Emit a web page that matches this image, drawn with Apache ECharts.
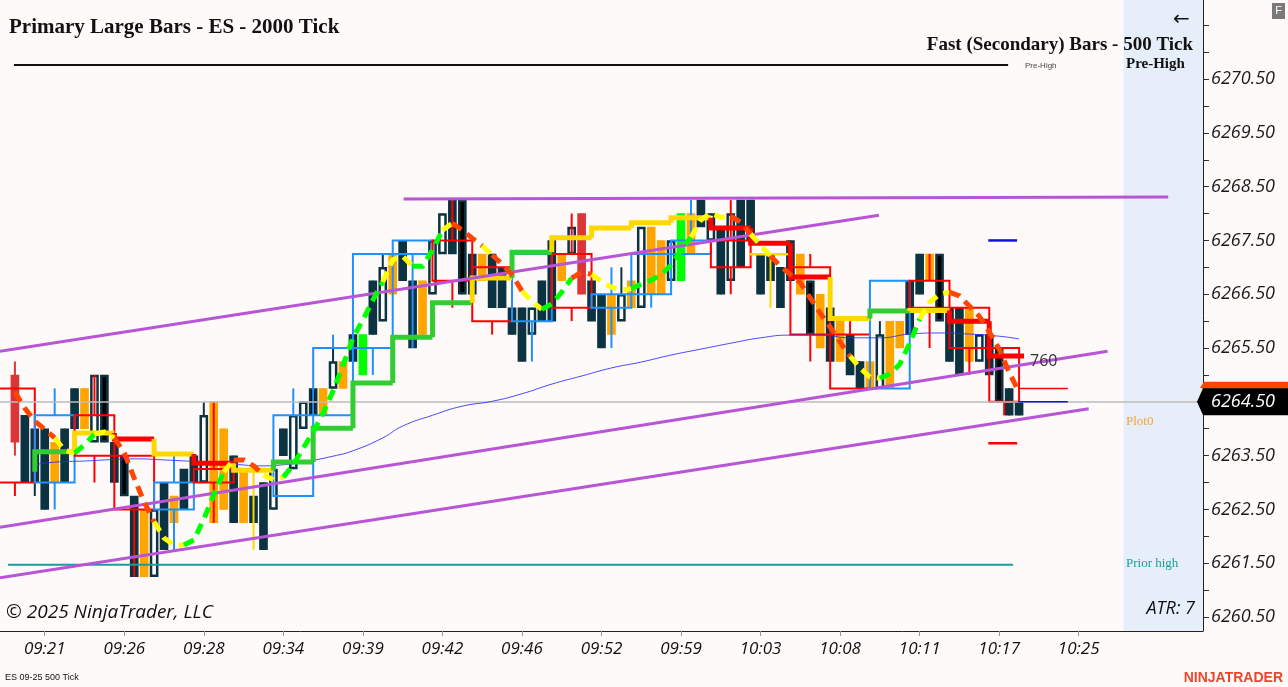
<!DOCTYPE html>
<html>
<head>
<meta charset="utf-8">
<script src="https://cdn.jsdelivr.net/npm/echarts@6/dist/echarts.min.js"></script>
<style>
  html, body { margin: 0; padding: 0; background: #fffafa; }
  #chart { width: 1288px; height: 687px; }
</style>
</head>
<body>
<div id="chart"></div>
<script>
// ---- axis labels ----
const timeLabels = ['09:21', '09:26', '09:28', '09:34', '09:39', '09:42', '09:46', '09:52', '09:59', '10:03', '10:08', '10:11', '10:17', '10:25'];
const timeLabelIdx = [4, 12, 20, 28, 36, 44, 52, 60, 68, 76, 84, 92, 100, 108];
const priceLabels = [6260.5, 6261.5, 6262.5, 6263.5, 6264.5, 6265.5, 6266.5, 6267.5, 6268.5, 6269.5, 6270.5];
const priceTicks = [6260.5, 6261, 6261.5, 6262, 6262.5, 6263, 6263.5, 6264, 6264.5, 6265, 6265.5, 6266,
  6266.5, 6267, 6267.5, 6268, 6268.5, 6269, 6269.5, 6270, 6270.5, 6271, 6271.5];
const lastPrice = 6264.5;

// ---- fast (secondary) 500 tick bars, index 0..102 ----
// kind: d = down dark, k = down black, u = up hollow, o = orange, r = red, g = green, - = none
const secKind = ['-', 'r', 'd', 'd', 'd', 'o', 'd', 'd', 'o', 'u', 'k', 'd', 'k', 'd', 'o', 'u', 'd', 'o', 'd', 'd',
  'u', 'o', 'o', 'd', 'o', 'd', 'd', 'u', 'd', 'u', 'u', 'k', 'o', 'u', 'o', 'd', 'g', 'd', 'u', 'o',
  'd', 'd', 'o', 'u', 'u', 'd', 'k', 'd', 'o', 'd', 'd', 'd', 'd', 'u', 'd', 'd', 'o', 'u', 'r', 'd',
  'd', 'o', 'u', 'o', 'u', 'o', 'o', 'u', 'g', 'o', 'd', 'u', 'd', 'u', 'd', 'd', 'd', 'd', 'd', 'd',
  'o', 'k', 'o', 'd', 'o', 'd', 'd', 'o', 'u', 'o', 'o', 'd', 'd', 'o', 'k', 'd', 'd', 'o', 'u', 'd',
  'k', 'd', 'd'];
const secOpen = [null, 6265.0, 6264.25, 6264.0, 6264.0, 6263.0, 6264.0, 6264.75, 6264.0, 6263.75, 6265.0, 6263.75, 6263.5, 6262.75, 6261.25, 6261.25, 6263.0, 6262.25, 6263.25, 6263.5,
  6263.0, 6264.5, 6262.5, 6263.5, 6262.25, 6262.75, 6263.0, 6262.5, 6264.0, 6263.25, 6264.0, 6264.75, 6264.25, 6264.75, 6264.75, 6265.75, 6265.0, 6266.75, 6266.0, 6267.25,
  6267.5, 6266.75, 6265.75, 6266.5, 6267.25, 6268.25, 6268.25, 6267.25, 6266.75, 6267.25, 6267.0, 6266.25, 6266.25, 6265.75, 6266.75, 6267.5, 6266.75, 6267.25, 6268.0, 6266.75,
  6266.5, 6265.75, 6266.0, 6266.25, 6266.25, 6266.5, 6267.5, 6266.75, 6266.75, 6267.25, 6268.25, 6267.5, 6267.75, 6266.75, 6268.25, 6268.25, 6267.25, 6267.25, 6267.0, 6267.5,
  6266.5, 6266.75, 6266.5, 6266.25, 6265.25, 6265.75, 6265.25, 6264.75, 6264.75, 6264.75, 6265.5, 6266.75, 6267.25, 6266.75, 6267.25, 6266.25, 6266.25, 6265.25, 6265.25, 6265.75,
  6265.5, 6264.75, 6264.5];
const secHigh = [null, 6265.25, 6264.25, 6264.0, 6264.0, 6263.75, 6264.0, 6264.75, 6264.75, 6265.0, 6265.0, 6263.75, 6263.5, 6262.75, 6262.5, 6262.5, 6263.0, 6262.75, 6263.25, 6263.5,
  6264.5, 6264.5, 6264.0, 6263.5, 6263.25, 6262.75, 6263.0, 6263.25, 6264.0, 6264.25, 6264.5, 6264.75, 6264.75, 6265.5, 6265.25, 6265.75, 6265.75, 6266.75, 6267.25, 6267.25,
  6267.5, 6266.75, 6266.75, 6267.5, 6268.0, 6268.25, 6268.25, 6267.25, 6267.25, 6267.25, 6267.0, 6266.25, 6266.25, 6266.25, 6266.75, 6267.5, 6267.25, 6267.75, 6268.0, 6266.75,
  6266.5, 6266.5, 6267.0, 6266.75, 6267.75, 6267.75, 6267.5, 6267.5, 6268.0, 6268.25, 6268.25, 6268.0, 6267.75, 6268.0, 6268.25, 6268.25, 6267.25, 6267.25, 6267.0, 6267.5,
  6267.25, 6266.75, 6266.5, 6266.25, 6266.0, 6265.75, 6265.25, 6265.25, 6266.0, 6266.0, 6266.0, 6266.75, 6267.25, 6267.25, 6267.25, 6266.25, 6266.25, 6266.25, 6265.75, 6265.75,
  6265.5, 6264.75, 6264.5];
const secLow = [null, 6263.5, 6263.0, 6262.75, 6262.5, 6263.0, 6263.0, 6264.0, 6264.0, 6263.75, 6263.75, 6263.0, 6262.75, 6261.25, 6261.25, 6261.25, 6261.75, 6261.75, 6262.5, 6263.0,
  6263.0, 6262.25, 6262.5, 6262.25, 6262.25, 6262.25, 6261.75, 6262.5, 6263.5, 6263.25, 6264.0, 6264.25, 6264.25, 6264.75, 6264.75, 6265.25, 6265.0, 6265.75, 6266.0, 6266.5,
  6266.75, 6265.5, 6265.75, 6266.5, 6267.25, 6267.25, 6266.5, 6266.5, 6266.75, 6266.25, 6266.25, 6265.75, 6265.25, 6265.75, 6266.0, 6266.0, 6266.75, 6267.25, 6266.5, 6266.0,
  6265.5, 6265.75, 6266.0, 6266.25, 6266.25, 6266.5, 6266.5, 6266.75, 6266.75, 6267.25, 6267.75, 6267.5, 6266.5, 6266.75, 6267.0, 6267.5, 6266.5, 6266.75, 6266.25, 6266.75,
  6266.5, 6265.75, 6265.5, 6265.25, 6265.25, 6265.0, 6264.75, 6264.75, 6264.75, 6264.75, 6265.5, 6265.75, 6266.5, 6266.75, 6266.0, 6265.25, 6265.0, 6265.25, 6265.25, 6265.0,
  6264.5, 6264.25, 6264.25];
const secClose = [null, 6263.75, 6263.0, 6263.0, 6262.5, 6263.75, 6263.0, 6264.0, 6264.75, 6265.0, 6263.75, 6263.0, 6262.75, 6261.25, 6262.5, 6262.5, 6261.75, 6262.75, 6262.5, 6263.0,
  6264.25, 6262.25, 6264.0, 6262.25, 6263.25, 6262.25, 6261.75, 6263.25, 6263.5, 6264.25, 6264.5, 6264.25, 6264.75, 6265.25, 6265.25, 6265.25, 6265.75, 6265.75, 6267.0, 6266.5,
  6266.75, 6265.5, 6266.75, 6267.5, 6268.0, 6267.25, 6266.5, 6266.5, 6267.25, 6266.25, 6266.25, 6265.75, 6265.25, 6266.25, 6266.0, 6266.0, 6267.25, 6267.75, 6266.5, 6266.0,
  6265.5, 6266.5, 6266.5, 6266.75, 6267.75, 6267.75, 6266.5, 6267.5, 6268.0, 6268.0, 6267.75, 6268.0, 6266.5, 6268.0, 6267.0, 6267.5, 6266.5, 6266.75, 6266.25, 6266.75,
  6267.25, 6265.75, 6265.5, 6265.25, 6266.0, 6265.0, 6264.75, 6265.25, 6265.75, 6266.0, 6266.0, 6265.75, 6266.5, 6267.25, 6266.0, 6265.25, 6265.0, 6266.25, 6265.75, 6265.0,
  6264.5, 6264.25, 6264.25];

// ---- primary large 2000 tick bars (each spans 4 fast bars) ----
const primOpen = [6264.75, 6263.0, 6264.25, 6263.5, 6262.5, 6263.25, 6263.25, 6262.75, 6264.25, 6265.5, 6267.25, 6267.5, 6267.0,
  6266.0, 6267.25, 6266.25, 6266.5, 6267.25, 6267.5, 6267.25, 6267.0, 6265.75, 6264.75, 6266.75, 6266.25, 6265.5];
const primHigh = [6264.75, 6264.75, 6265.0, 6263.5, 6263.5, 6264.5, 6263.25, 6264.75, 6265.75, 6267.25, 6267.5, 6268.25, 6267.0,
  6267.25, 6268.0, 6267.0, 6267.25, 6268.25, 6268.25, 6267.25, 6267.25, 6266.0, 6266.75, 6267.25, 6266.25, 6265.5];
const primLow = [6262.75, 6262.5, 6263.0, 6261.25, 6261.75, 6262.25, 6261.75, 6262.75, 6264.25, 6265.0, 6265.5, 6266.25, 6265.75,
  6265.25, 6266.0, 6265.5, 6266.25, 6267.25, 6266.5, 6266.25, 6265.25, 6264.75, 6264.75, 6265.5, 6265.0, 6264.25];
const primClose = [6263.0, 6264.25, 6263.5, 6262.5, 6263.0, 6263.0, 6263.25, 6264.25, 6265.5, 6267.25, 6267.5, 6266.75, 6266.0,
  6267.25, 6266.25, 6266.5, 6267.25, 6267.5, 6267.0, 6267.25, 6265.75, 6264.75, 6266.75, 6266.25, 6265.5, 6264.5];

// ---- trend step line per primary bar (g = up, y = flat, r = down, - = hidden) ----
const stepVal = [6263.2, 6263.57, 6263.92, 6263.81, 6263.53, 6263.36, 6263.23, 6263.38, 6264.01, 6264.85, 6265.7, 6266.34, 6266.8,
  6267.28, 6267.55, 6267.73, 6267.83, 6267.92, 6267.73, 6267.45, 6266.82, 6266.05, 6266.19, 6266.2, 6266.0, 6265.35];
const stepTrend = ['-', 'g', 'y', 'r', 'y', 'r', 'y', 'g', 'g', 'g', 'g', 'g', 'y', 'g', 'y', 'y', 'y', 'y', 'r', 'r', 'r', 'y', 'g', 'y', 'r', 'r'];

// ---- dashed fast average per fast bar ----
const dashVal = [null,
  6264.68, 6264.38, 6264.14, 6263.99, 6263.83, 6263.60, 6263.55, 6263.70, 6263.90, 6263.94,
  6263.83, 6263.55, 6263.08, 6262.64, 6262.27, 6261.97, 6261.84, 6261.84, 6261.93, 6262.32,
  6262.77, 6263.20, 6263.42, 6263.42, 6263.31, 6263.14, 6263.05, 6263.10, 6263.33, 6263.64,
  6263.94, 6264.29, 6264.70, 6265.18, 6265.69, 6266.02, 6266.39, 6266.73, 6267.14, 6267.21,
  6267.02, 6267.02, 6267.32, 6267.69, 6267.82, 6267.69, 6267.54, 6267.40, 6267.23, 6267.06,
  6266.86, 6266.56, 6266.37, 6266.22, 6266.32, 6266.54, 6266.80, 6266.91, 6266.87, 6266.74,
  6266.63, 6266.58, 6266.60, 6266.69, 6266.76, 6266.87, 6267.04, 6267.32, 6267.56, 6267.88,
  6268.01, 6267.93, 6267.95, 6267.84, 6267.62, 6267.41, 6267.21, 6267.02, 6266.87, 6266.71,
  6266.43, 6266.15, 6265.89, 6265.61, 6265.35, 6265.13, 6264.96, 6264.94, 6265.02, 6265.20,
  6265.59, 6266.04, 6266.35, 6266.50, 6266.54, 6266.47, 6266.28, 6266.09, 6265.80, 6265.48,
  6265.05, 6264.68];
// colour runs of the dashed line: [first index, last index, trend]
const dashRuns = [[1, 5, 'o'], [6, 7, 'y'], [8, 9, 'g'], [10, 11, 'y'], [12, 15, 'o'], [16, 18, 'y'], [19, 22, 'g'], [23, 23, 'y'],
  [24, 26, 'o'], [27, 28, 'y'], [29, 38, 'g'], [39, 41, 'y'], [42, 44, 'g'], [45, 45, 'y'], [46, 48, 'o'], [49, 49, 'y'],
  [50, 52, 'o'], [53, 54, 'y'], [55, 57, 'g'], [58, 59, 'o'], [60, 63, 'y'], [64, 69, 'g'], [70, 73, 'y'], [74, 75, 'o'],
  [76, 77, 'y'], [78, 85, 'o'], [86, 88, 'y'], [89, 92, 'g'], [93, 95, 'y'], [96, 102, 'o']];

// ---- slow moving average (thin blue) ----
const smaIdx = [3, 5, 8, 10, 13, 16, 20, 23, 26, 28, 30, 33, 35, 38, 40, 43, 46, 49, 52, 55, 58, 61, 64, 67, 70, 73, 76, 79, 82, 85, 88, 91, 94, 97, 100, 102];
const smaVal = [6263.33, 6263.38, 6263.40, 6263.42, 6263.44, 6263.42, 6263.38, 6263.34, 6263.31, 6263.33,
  6263.38, 6263.49, 6263.59, 6263.83, 6264.05, 6264.25, 6264.42, 6264.51, 6264.65, 6264.83,
  6264.98, 6265.13, 6265.24, 6265.37, 6265.48, 6265.59, 6265.69, 6265.74, 6265.74, 6265.69,
  6265.69, 6265.76, 6265.78, 6265.76, 6265.72, 6265.67];

// ---- drawn trend lines: from index, from price, to index, to price ----
const trendFromIdx = [-0.5, 40.1, -0.5, -0.5];
const trendFromPrice = [6265.44, 6268.27, 6262.17, 6261.23];
const trendToIdx = [87.9, 117.0, 110.9, 109.0];
const trendToPrice = [6267.97, 6268.31, 6265.44, 6264.37];

// ---- horizontal levels ----
const levelFrom = [0.9, 0.3, 98.9, 98.9, 101.9, 101.9];
const levelTo = [100.9, 101.4, 101.8, 101.8, 106.9, 106.9];
const levelPrice = [6270.76, 6261.47, 6267.5, 6263.73, 6264.75, 6264.5];
const levelKind = ['pre', 'prior', 'blue', 'red', 'redThin', 'blueThin'];

// ---------------------------------------------------------------
const lastIdx = secKind.length - 1;

const candleStyle = {
  d: { fill: '#0b3341', stroke: '#0b3341' },
  k: { fill: '#000000', stroke: '#0b3341' },
  u: { fill: '#ffffff', stroke: '#0b3341' },
  o: { fill: '#ffa500', stroke: '#ffa500' },
  r: { fill: '#dc3535', stroke: '#dc3535' },
  g: { fill: '#00ff00', stroke: '#00ff00' }
};
const stepColor = { g: '#32cd32', y: '#ffd700', r: '#ff0000' };
const dashColor = { g: '#00ff00', y: '#ffff00', o: '#ff4500' };
const levelStyle = {
  pre: { stroke: '#111111', lineWidth: 2 },
  prior: { stroke: '#1a9c9c', lineWidth: 2 },
  blue: { stroke: '#1010e0', lineWidth: 2.5 },
  red: { stroke: '#ff0000', lineWidth: 2.5 },
  redThin: { stroke: '#ff0000', lineWidth: 1.5 },
  blueThin: { stroke: '#1010e0', lineWidth: 1.5 }
};

const candleData = [];
const candleKinds = [];
secKind.forEach((k, i) => {
  if (k === '-') return;
  candleData.push([i, secOpen[i], secHigh[i], secLow[i], secClose[i]]);
  candleKinds.push(k);
});

const primData = primOpen.map((o, k) => [4 * k - 1, Math.min(4 * k + 3, lastIdx), o, primHigh[k], primLow[k], primClose[k]]);
const stepData = stepVal.map((v, k) => [4 * k - 1, Math.min(4 * k + 3, lastIdx + 0.5), v, k > 0 ? stepVal[k - 1] : v]);
const smaData = smaIdx.map((x, n) => [x, smaVal[n]]);
const trendData = trendFromIdx.map((x, n) => [x, trendFromPrice[n], trendToIdx[n], trendToPrice[n]]);
const levelData = levelFrom.map((x, n) => [x, levelPrice[n], levelTo[n]]);

function renderCandle(params, api) {
  const i = api.value(0);
  const pO = api.coord([i, api.value(1)]);
  const yH = api.coord([i, api.value(2)])[1];
  const yL = api.coord([i, api.value(3)])[1];
  const yC = api.coord([i, api.value(4)])[1];
  const x = pO[0];
  const w = api.size([1, 0])[0] * 0.82;
  const top = Math.min(pO[1], yC);
  const h = Math.max(Math.abs(pO[1] - yC), 3);
  const c = candleStyle[candleKinds[params.dataIndex]];
  return {
    type: 'group',
    children: [
      { type: 'line', shape: { x1: x, y1: yH, x2: x, y2: yL }, style: { stroke: c.stroke, lineWidth: 2 } },
      { type: 'rect', shape: { x: x - w / 2 + 1, y: top + 1, width: w - 2, height: h - 2 },
        style: { fill: c.fill, stroke: c.stroke, lineWidth: 2.5 } }
    ]
  };
}

function renderPrimary(params, api) {
  const s = api.value(0), e = api.value(1);
  const o = api.value(2), hi = api.value(3), lo = api.value(4), cl = api.value(5);
  const xs = api.coord([s, o])[0], xe = api.coord([e, o])[0];
  const xm = (xs + xe) / 2;
  const yO = api.coord([s, o])[1], yC = api.coord([s, cl])[1];
  const yH = api.coord([s, hi])[1], yL = api.coord([s, lo])[1];
  const color = cl > o ? '#1e90ff' : (cl < o ? '#ff0000' : '#ffd700');
  const top = Math.min(yO, yC), bot = Math.max(yO, yC);
  return {
    type: 'group',
    children: [
      { type: 'rect', shape: { x: xs, y: top, width: xe - xs, height: Math.max(bot - top, 0.5) },
        style: { fill: 'none', stroke: color, lineWidth: 2 } },
      { type: 'line', shape: { x1: xm, y1: yH, x2: xm, y2: top }, style: { stroke: color, lineWidth: 2 } },
      { type: 'line', shape: { x1: xm, y1: bot, x2: xm, y2: yL }, style: { stroke: color, lineWidth: 2 } }
    ]
  };
}

function renderStep(params, api) {
  const trend = stepTrend[params.dataIndex];
  if (trend === '-') return null;
  const s = api.value(0), e = api.value(1);
  const p = api.coord([s, api.value(2)]);
  const prevY = api.coord([s, api.value(3)])[1];
  const xe = api.coord([e, api.value(2)])[0];
  return {
    type: 'polyline',
    shape: { points: [[p[0], prevY], [p[0], p[1]], [xe, p[1]]] },
    style: { fill: 'none', stroke: stepColor[trend], lineWidth: 5 }
  };
}

function renderDash(params, api) {
  const run = dashRuns[params.dataIndex];
  const pts = [];
  for (let i = Math.max(run[0] - 1, 1); i <= run[1]; i++) pts.push(api.coord([i, dashVal[i]]));
  return {
    type: 'polyline',
    shape: { points: pts },
    style: { fill: 'none', stroke: dashColor[run[2]], lineWidth: 5, lineDash: [11, 7] }
  };
}

function renderTrend(params, api) {
  const a = api.coord([api.value(0), api.value(1)]);
  const b = api.coord([api.value(2), api.value(3)]);
  return { type: 'line', shape: { x1: a[0], y1: a[1], x2: b[0], y2: b[1] }, style: { stroke: '#b755d6', lineWidth: 3 } };
}

function renderLevel(params, api) {
  const a = api.coord([api.value(0), api.value(1)]);
  const b = api.coord([api.value(2), api.value(1)]);
  return { type: 'line', shape: { x1: a[0], y1: a[1], x2: b[0], y2: a[1] }, style: levelStyle[levelKind[params.dataIndex]] };
}

function renderTag(params, api) {
  const p = api.coord([api.value(0), api.value(1)]);
  const x = p[0], y = p[1];
  return {
    type: 'group',
    children: [
      { type: 'polygon', shape: { points: [[x - 3, y - 14], [x + 1, y - 20], [x + 85, y - 20], [x + 85, y - 13], [x, y - 13]] },
        style: { fill: '#ff4500' } },
      { type: 'polygon', shape: { points: [[x - 6, y], [x, y - 13.5], [x + 85, y - 13.5], [x + 85, y + 13.5], [x, y + 13.5]] },
        style: { fill: '#000000' } },
      { type: 'text', x: x + 8, y: y, style: { text: api.value(1).toFixed(2), fill: '#ffffff',
        font: 'italic 18px "Open Sans"', verticalAlign: 'middle' } }
    ]
  };
}

const textZ = 50;
const chart = echarts.init(document.getElementById('chart'));
chart.setOption({
  animation: false,
  backgroundColor: '#fffafa',
  grid: { left: 0, right: 85, top: 0, bottom: 56, outerBoundsMode: 'none', containLabel: false },
  xAxis: {
    type: 'value', min: -0.5, max: 120.5,
    splitLine: { show: false },
    axisLine: { onZero: false, lineStyle: { color: '#222', width: 1 } },
    axisTick: { customValues: timeLabelIdx, length: 5, lineStyle: { color: '#999' } },
    axisLabel: {
      customValues: timeLabelIdx, margin: 10,
      formatter: v => timeLabels[timeLabelIdx.indexOf(Math.round(v))] || '',
      fontFamily: 'Open Sans', fontStyle: 'italic', fontSize: 17, color: '#111'
    }
  },
  yAxis: {
    type: 'value', position: 'right', min: 6260.24, max: 6271.97, scale: true,
    splitLine: { show: false },
    axisLine: { show: true, onZero: false, lineStyle: { color: '#222', width: 1 } },
    axisTick: { show: true, customValues: priceTicks, length: 6, lineStyle: { color: '#333' } },
    axisLabel: {
      customValues: priceLabels, margin: 8,
      formatter: v => v.toFixed(2),
      fontFamily: 'Open Sans', fontStyle: 'italic', fontSize: 18, color: '#1a1a1a'
    }
  },
  series: [
    {
      type: 'line', name: 'sma', data: smaData, smooth: true, symbol: 'none', z: 5,
      lineStyle: { color: '#2a2aff', width: 1, opacity: 0.85 },
      markArea: { silent: true, itemStyle: { color: '#e6eef9' }, data: [[{ xAxis: 112.5 }, { xAxis: 120.5 }]] },
      markLine: { silent: true, symbol: ['none', 'none'], label: { show: false },
        lineStyle: { color: '#bdbdbd', width: 1.5, type: 'solid' }, data: [{ yAxis: lastPrice }] }
    },
    { type: 'custom', name: 'fast', renderItem: renderCandle, data: candleData, z: 3 },
    { type: 'custom', name: 'primary', renderItem: renderPrimary, data: primData, z: 4 },
    { type: 'custom', name: 'levels', renderItem: renderLevel, data: levelData, z: 5 },
    { type: 'custom', name: 'step', renderItem: renderStep, data: stepData, z: 6 },
    { type: 'custom', name: 'trend', renderItem: renderTrend, data: trendData, z: 7 },
    { type: 'custom', name: 'dash', renderItem: renderDash, data: dashRuns.map((r, n) => [n]), z: 8 },
    { type: 'custom', name: 'tag', renderItem: renderTag, data: [[120.5, lastPrice]], z: 10, clip: false }
  ],
  graphic: [
    { type: 'text', z: textZ, x: 9, y: 28, style: { text: 'Primary Large Bars - ES - 2000 Tick', font: 'bold 21px "Liberation Serif"', fill: '#111', verticalAlign: 'middle' } },
    { type: 'text', z: textZ, x: 1193, y: 45, style: { text: 'Fast (Secondary) Bars - 500 Tick', font: 'bold 19px "Liberation Serif"', fill: '#111', align: 'right', verticalAlign: 'middle' } },
    { type: 'text', z: textZ, x: 1025, y: 66, style: { text: 'Pre-High', font: '8px "Liberation Sans"', fill: '#444', verticalAlign: 'middle' } },
    { type: 'text', z: textZ, x: 1126, y: 64, style: { text: 'Pre-High', font: 'bold 15px "Liberation Serif"', fill: '#111', verticalAlign: 'middle' } },
    { type: 'text', z: textZ, x: 1126, y: 422, style: { text: 'Plot0', font: '13px "Liberation Serif"', fill: '#f2a536', verticalAlign: 'middle' } },
    { type: 'text', z: textZ, x: 1126, y: 564, style: { text: 'Prior high', font: '13px "Liberation Serif"', fill: '#1a9c9c', verticalAlign: 'middle' } },
    { type: 'text', z: textZ, x: 1195, y: 609, style: { text: 'ATR: 7', font: 'italic 18px "Open Sans"', fill: '#111', align: 'right', verticalAlign: 'middle' } },
    { type: 'text', z: textZ, x: 1030, y: 361, style: { text: '760', font: '16px "Open Sans"', fill: '#333', verticalAlign: 'middle' } },
    { type: 'text', z: textZ, x: 6, y: 613, style: { text: '© 2025 NinjaTrader, LLC', font: 'italic 19px "Open Sans"', fill: '#111', verticalAlign: 'middle' } },
    { type: 'text', z: textZ, x: 1173, y: 20, style: { text: '←', font: '20px "DejaVu Sans"', fill: '#111', verticalAlign: 'middle' } },
    { type: 'rect', z: textZ, shape: { x: 1272, y: 3, width: 13, height: 16 }, style: { fill: '#7a7a7a' } },
    { type: 'text', z: textZ, x: 1278.5, y: 11, style: { text: 'F', font: '11px "Liberation Sans"', fill: '#fff', align: 'center', verticalAlign: 'middle' } },
    { type: 'text', z: textZ, x: 5, y: 678, style: { text: 'ES 09-25 500 Tick', font: '9px "Liberation Sans"', fill: '#111', verticalAlign: 'middle' } },
    { type: 'text', z: textZ, x: 1283, y: 678, style: { text: 'NINJATRADER', font: 'bold 14px "Liberation Sans"', fill: '#e8472b', align: 'right', verticalAlign: 'middle' } }
  ]
});
</script>
</body>
</html>
